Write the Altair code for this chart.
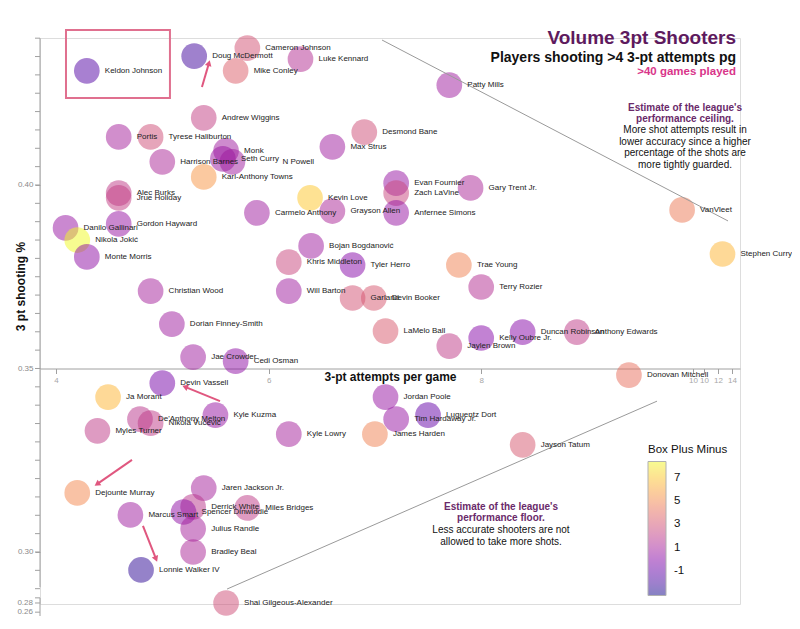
import altair as alt
import pandas as pd

# ---------------- data ----------------
players = ["Keldon Johnson", "Doug McDermott", "Cameron Johnson", "Mike Conley", "Luke Kennard",
           "Andrew Wiggins", "Portis", "Tyrese Haliburton", "Monk", "Harrison Barnes", "Seth Curry",
           "N Powell", "Karl-Anthony Towns", "Max Strus", "Desmond Bane", "Alec Burks", "Jrue Holiday",
           "Gordon Hayward", "Danilo Gallinari", "Nikola Jokić", "Monte Morris", "Christian Wood",
           "Dorian Finney-Smith", "Jae Crowder", "Cedi Osman", "Carmelo Anthony", "Kevin Love",
           "Grayson Allen", "Evan Fournier", "Zach LaVine", "Anfernee Simons", "Gary Trent Jr.",
           "Bojan Bogdanović", "Khris Middleton", "Tyler Herro", "Trae Young", "Terry Rozier",
           "Will Barton", "Garland", "Devin Booker", "LaMelo Ball", "Jaylen Brown", "Kelly Oubre Jr.",
           "Duncan Robinson", "Anthony Edwards", "Donovan Mitchell", "Jordan Poole", "Tim Hardaway Jr.",
           "Luguentz Dort", "James Harden", "Kyle Lowry", "Jayson Tatum", "Devin Vassell", "Ja Morant",
           "De'Anthony Melton", "Nikola Vučević", "Kyle Kuzma", "Myles Turner", "Dejounte Murray",
           "Jaren Jackson Jr.", "Derrick White", "Miles Bridges", "Spencer Dinwiddie", "Marcus Smart",
           "Julius Randle", "Bradley Beal", "Lonnie Walker IV", "Shai Gilgeous-Alexander", "Patty Mills",
           "VanVleet", "Stephen Curry"]

attempts = [4.29, 5.30, 5.80, 5.69, 6.30,
            5.39, 4.59, 4.89, 5.60, 5.00, 5.57,
            5.66, 5.39, 6.60, 6.90, 4.59, 4.59,
            4.59, 4.09, 4.20, 4.29, 4.89,
            5.09, 5.29, 5.69, 5.89, 6.39,
            6.60, 7.20, 7.20, 7.20, 7.90,
            6.40, 6.19, 6.79, 7.79, 8.00,
            6.19, 6.79, 6.99, 7.10, 7.70, 8.00,
            8.39, 8.90, 9.39, 7.10, 7.20,
            7.50, 7.00, 6.19, 8.39, 5.00, 4.49,
            4.79, 4.89, 5.50, 4.39, 4.20,
            5.39, 5.29, 5.80, 5.20, 4.70,
            5.29, 5.29, 4.80, 5.60, 7.70,
            9.89, 10.27]

pct = [0.4311, 0.4351, 0.4373, 0.4311, 0.4343,
       0.4183, 0.4131, 0.4131, 0.4093, 0.4063, 0.4071,
       0.4063, 0.4022, 0.4104, 0.4144, 0.3978, 0.3965,
       0.3894, 0.3883, 0.3850, 0.3804, 0.3711,
       0.3621, 0.3531, 0.3520, 0.3924, 0.3965,
       0.3929, 0.4005, 0.3978, 0.3924, 0.3992,
       0.3834, 0.3790, 0.3782, 0.3782, 0.3722,
       0.3711, 0.3692, 0.3692, 0.3602, 0.3561, 0.3583,
       0.3599, 0.3599, 0.3482, 0.3422, 0.3362,
       0.3373, 0.3321, 0.3321, 0.3292, 0.3460, 0.3422,
       0.3362, 0.3351, 0.3373, 0.3330, 0.3161,
       0.3174, 0.3123, 0.3120, 0.3109, 0.3101,
       0.3063, 0.3000, 0.2951, 0.2861, 0.4272,
       0.3932, 0.3812]

bpm = [-1.5, -2.0, 3.0, 3.5, 1.5,
       2.2, 1.0, 2.8, 0.8, 1.2, 0.6,
       0.8, 5.5, 0.8, 2.8, 2.0, 2.2,
       0.5, 0.5, 8.4, 0.3, 1.0,
       0.8, 0.8, 0.3, 0.8, 7.0,
       1.2, 0.5, 2.5, 0.5, 1.2,
       0.8, 2.5, 0.0, 4.8, 1.5,
       0.8, 3.0, 3.2, 3.3, 2.0, 0.0,
       0.0, 2.0, 4.2, 0.5, 0.5,
       -1.0, 4.8, 1.0, 3.2, -0.5, 6.5,
       1.8, 2.0, 0.5, 2.0, 5.0,
       1.0, 1.8, 2.0, 0.3, 0.8,
       1.0, 1.2, -2.5, 2.8, 0.8,
       4.5, 6.5]

# labels that sit further from their bubble than the rest
far_labels = ["N Powell"]

# axis tick values and labels
x_tick_values = [4, 6, 8, 9.992, 10.096, 10.228, 10.359]
y_major_values = [0.30, 0.35, 0.40]
y_minor_values = [round(0.29 + 0.005 * i, 3) for i in range(31)]
y_break_values = [0.2875, 0.2861, 0.2836]
y_break_labels = ["", "0.28", "0.26"]
y_axis_seg_from = [0.44005, 0.2875]
y_axis_seg_to = [0.2904, 0.2822]
legend_values = [-1, 1, 3, 5, 7]

# guide lines (ceiling / floor)
guide_x1 = [7.067, 5.609]
guide_y1 = [0.4395, 0.2899]
guide_x2 = [10.322, 9.654]
guide_y2 = [0.3902, 0.3411]

# highlight box
box_x1, box_x2 = [4.094], [5.072]
box_y1, box_y2 = [0.4422], [0.4237]

# arrows
arrow_x1 = [5.373, 5.543, 4.715, 4.818]
arrow_y1 = [0.4267, 0.3411, 0.3251, 0.3071]
arrow_x2 = [5.439, 5.214, 4.386, 4.941]
arrow_y2 = [0.4332, 0.3450, 0.3185, 0.2981]
arrow_angle = [16, 292, 236, 158]

ceiling_bold = ["Estimate of the league's", "performance ceiling."]
ceiling_text = ["More shot attempts result in", "lower accuracy since a higher",
                "percentage of the shots are", "more tightly guarded."]
floor_bold = ["Estimate of the league's", "performance floor."]
floor_text = ["Less accurate shooters are not", "allowed to take more shots."]

# ---------------- chart ----------------
FONT = "Liberation Sans"
W, H = 700, 566
xs = alt.Scale(domain=[3.8495, 10.4346], nice=False, zero=False)
ys = alt.Scale(domain=[0.285826, 0.44005], nice=False, zero=False)

df = pd.DataFrame({"player": players, "attempts": attempts, "pct": pct, "bpm": bpm})

x_label_expr = ("datum.value < 9 ? format(datum.value, 'd') : datum.value < 10.05 ? '10' : "
                "datum.value < 10.15 ? '10' : datum.value < 10.3 ? '12' : '14'")

x_axis = alt.Axis(values=x_tick_values, labelExpr=x_label_expr, offset=-(H - 330.5),
                  domainColor="#a0a0a0", tickColor="#a0a0a0", tickSize=5,
                  labelColor="#a8a8a8", labelFontSize=8, labelFont=FONT, labelPadding=3,
                  labelOverlap=False, labelFlush=False, grid=False,
                  title="3-pt attempts per game", titleFont=FONT, titleFontSize=12,
                  titleFontWeight="bold", titleColor="#111111", titleX=350, titleY=8,
                  titleBaseline="middle", titleAlign="center")
y_axis = alt.Axis(values=y_major_values, format=".2f", domain=False,
                  tickColor="#a0a0a0", tickSize=5, labelColor="#8a8a8a", labelFontSize=8,
                  labelFont=FONT, labelPadding=2, labelOverlap=False, grid=False,
                  title="3 pt shooting %", titleFont=FONT, titleFontSize=12,
                  titleFontWeight="bold", titleColor="#111111", titleX=-20, titleY=248,
                  titleAngle=270, titleAlign="center", titleBaseline="middle")

legend = alt.Legend(title="Box Plus Minus", orient="none", legendX=608, legendY=406,
                    values=legend_values, direction="vertical",
                    labelExpr="datum.value < 0 ? '-' + toString(abs(datum.value)) : toString(datum.value)",
                    gradientLength=134, gradientThickness=18, gradientStrokeColor="#666666",
                    gradientStrokeWidth=1, gradientOpacity=0.5,
                    labelFontSize=11.5, labelColor="#111111", labelFont=FONT, labelOffset=8,
                    titleFont=FONT, titleFontSize=11.5, titleFontWeight="normal",
                    titleColor="#111111", titlePadding=6)

base = alt.Chart(df)
points = base.mark_circle(size=660, opacity=0.5).encode(
    x=alt.X("attempts:Q", scale=xs, axis=x_axis),
    y=alt.Y("pct:Q", scale=ys, axis=y_axis),
    color=alt.Color("bpm:Q", scale=alt.Scale(scheme="plasma", domain=[-3.1, 8.4]), legend=legend),
)
far_filter = alt.FieldOneOfPredicate(field="player", oneOf=far_labels)
labels = base.transform_filter(~far_filter).mark_text(
    align="left", baseline="middle", dx=18, fontSize=8, font=FONT, color="#222222").encode(
    x=alt.X("attempts:Q", scale=xs), y=alt.Y("pct:Q", scale=ys), text="player:N")
labels_far = base.transform_filter(far_filter).mark_text(
    align="left", baseline="middle", dx=50, fontSize=8, font=FONT, color="#222222").encode(
    x=alt.X("attempts:Q", scale=xs), y=alt.Y("pct:Q", scale=ys), text="player:N")

guides_df = pd.DataFrame({"x1": guide_x1, "y1": guide_y1, "x2": guide_x2, "y2": guide_y2})
guides = alt.Chart(guides_df).mark_rule(color="#9a9a9a", strokeWidth=1).encode(
    x=alt.X("x1:Q", scale=xs), y=alt.Y("y1:Q", scale=ys), x2="x2:Q", y2="y2:Q")

box_df = pd.DataFrame({"x1": box_x1, "x2": box_x2, "y1": box_y1, "y2": box_y2})
box = alt.Chart(box_df).mark_rect(fillOpacity=0, stroke="#e0708f", strokeWidth=2).encode(
    x=alt.X("x1:Q", scale=xs), x2="x2:Q", y=alt.Y("y1:Q", scale=ys), y2="y2:Q")

arrow_df = pd.DataFrame({"x1": arrow_x1, "y1": arrow_y1, "x2": arrow_x2, "y2": arrow_y2,
                         "ang": arrow_angle})
arrow_lines = alt.Chart(arrow_df).mark_rule(color="#e0577f", strokeWidth=2).encode(
    x=alt.X("x1:Q", scale=xs), y=alt.Y("y1:Q", scale=ys), x2="x2:Q", y2="y2:Q")
arrow_heads = alt.Chart(arrow_df).mark_point(shape="triangle-up", filled=True, size=45,
                                             color="#e0577f", opacity=1).encode(
    x=alt.X("x2:Q", scale=xs), y=alt.Y("y2:Q", scale=ys), angle=alt.Angle("ang:Q", scale=None))

seg_df = pd.DataFrame({"y1": y_axis_seg_from, "y2": y_axis_seg_to})
y_segments = alt.Chart(seg_df).mark_rule(color="#a0a0a0", strokeWidth=1).encode(
    x=alt.value(0), y=alt.Y("y1:Q", scale=ys), y2="y2:Q")

minor_df = pd.DataFrame({"v": y_minor_values})
minor_ticks = alt.Chart(minor_df).mark_rule(color="#a0a0a0", strokeWidth=1).encode(
    x=alt.value(-5), x2=alt.value(0), y=alt.Y("v:Q", scale=ys))

brk_df = pd.DataFrame({"v": y_break_values, "lab": y_break_labels})
brk_ticks = alt.Chart(brk_df).mark_rule(color="#a0a0a0", strokeWidth=1).encode(
    x=alt.value(-5), x2=alt.value(0), y=alt.Y("v:Q", scale=ys))
brk_labels = alt.Chart(brk_df).mark_text(align="right", baseline="middle", fontSize=8, font=FONT,
                                         color="#8a8a8a").encode(
    x=alt.value(-7), y=alt.Y("v:Q", scale=ys), text="lab:N")


def note(txt, px, py, size, weight, color, align="center", baseline="middle"):
    return alt.Chart(alt.Data(values=[{}])).mark_text(
        align=align, baseline=baseline, fontSize=size, fontWeight=weight, font=FONT, color=color
    ).encode(x=alt.value(px), y=alt.value(py), text=alt.value(txt))


notes = [
    note("Volume 3pt Shooters", 696, 6, 19, "bold", "#5e1a5e", align="right", baseline="alphabetic"),
    note("Players shooting >4 3-pt attempts pg", 696, 24, 14, "bold", "#111111", align="right",
         baseline="alphabetic"),
    note(">40 games played", 696, 37, 11.5, "bold", "#d9358a", align="right", baseline="alphabetic"),
]
for i, t in enumerate(ceiling_bold):
    notes.append(note(t, 645, 70 + 11 * i, 10, "bold", "#6a2a6a"))
for i, t in enumerate(ceiling_text):
    notes.append(note(t, 645, 92 + 11.7 * i, 10, "normal", "#111111"))
for i, t in enumerate(floor_bold):
    notes.append(note(t, 461, 469 + 11 * i, 10, "bold", "#6a2a6a"))
for i, t in enumerate(floor_text):
    notes.append(note(t, 461, 492 + 12 * i, 10, "normal", "#111111"))

chart = alt.layer(
    points, guides, box, arrow_lines, arrow_heads, y_segments, minor_ticks, brk_ticks, brk_labels,
    labels, labels_far, *notes
).properties(
    width=W, height=H,
    padding={"left": 32, "top": 30, "right": 52, "bottom": 12},
    autosize=alt.AutoSizeParams(type="none"),
).configure_view(stroke=None).configure(font=FONT, background="white")

chart.save("out.html", embed_options={"renderer": "svg", "actions": False})
